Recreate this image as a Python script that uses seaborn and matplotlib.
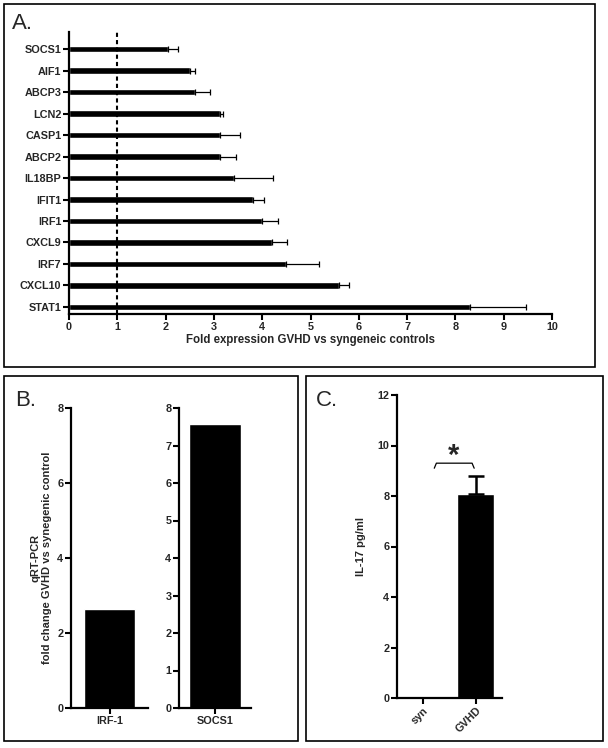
import numpy as np
import pandas as pd
import seaborn as sns
import matplotlib.pyplot as plt
from matplotlib.patches import Rectangle

# -----------------------------
# Data
# -----------------------------
genes = ["SOCS1", "AIF1", "ABCP3", "LCN2", "CASP1", "ABCP2", "IL18BP",
         "IFIT1", "IRF1", "CXCL9", "IRF7", "CXCL10", "STAT1"]
fold = [2.04, 2.5, 2.61, 3.13, 3.13, 3.13, 3.41, 3.8, 4.0, 4.21, 4.49, 5.6, 8.3]
fold_err = [0.21, 0.1, 0.31, 0.05, 0.41, 0.33, 0.82, 0.24, 0.33, 0.3, 0.69, 0.2, 1.16]

qpcr_labels = ["IRF-1", "SOCS1"]
qpcr_values = [2.64, 7.57]

il17_groups = ["syn", "GVHD"]
il17_values = [0.05, 8.07]
il17_err = [0.0, 0.72]

# -----------------------------
# Style
# -----------------------------
sns.set_style("ticks")
plt.rcParams["font.family"] = ["Liberation Sans", "DejaVu Sans"]
plt.rcParams["font.weight"] = "bold"

W, H = 608, 748
fig = plt.figure(figsize=(W / 100, H / 100), dpi=100)


def px_axes(x0, y0, x1, y1):
    # pixel box (top-left origin) -> figure axes
    return fig.add_axes([x0 / W, 1 - y1 / H, (x1 - x0) / W, (y1 - y0) / H])


def style_ax(ax, size=7.8):
    sns.despine(ax=ax)
    for s in ("left", "bottom"):
        ax.spines[s].set_linewidth(1.6)
        ax.spines[s].set_color("black")
    ax.tick_params(width=1.5, length=4, color="black", labelsize=size, pad=1.5)
    for lab in ax.get_xticklabels() + ax.get_yticklabels():
        lab.set_fontweight("bold")


# panel frames
for (x0, y0, x1, y1) in [(4, 4, 595, 367), (4, 376, 298, 741), (306, 376, 603, 741)]:
    fig.patches.append(Rectangle((x0 / W, 1 - y1 / H), (x1 - x0) / W, (y1 - y0) / H,
                                 transform=fig.transFigure, fill=False,
                                 edgecolor="black", linewidth=1.2))

# -----------------------------
# Panel A
# -----------------------------
df_a = pd.DataFrame({"gene": genes, "fold": fold, "err": fold_err})
axA = px_axes(69, 32, 552, 314)
sns.barplot(data=df_a, x="fold", y="gene", orient="h", color="black",
            width=0.3, errorbar=None, ax=axA, saturation=1)
axA.errorbar(df_a["fold"], np.arange(len(genes)), xerr=[np.zeros(len(genes)), df_a["err"]],
             fmt="none", ecolor="black", elinewidth=0.9, capsize=2, capthick=0.9)
axA.axvline(1, color="black", linestyle=(0, (2, 1.5)), linewidth=1.5)
axA.set_xlim(0, 10)
axA.set_ylim(12.33, -0.8)
axA.set_xticks(range(0, 11))
axA.set_xlabel("Fold expression GVHD vs syngeneic controls", fontsize=8.3,
               fontweight="bold", labelpad=2)
axA.set_ylabel("")
style_ax(axA)
fig.text(12 / W, 1 - 29 / H, "A.", fontsize=16, fontweight="normal")

# -----------------------------
# Panel B
# -----------------------------
axB1 = px_axes(71, 408, 148, 708)
sns.barplot(x=[qpcr_labels[0]], y=[qpcr_values[0]], color="black", width=0.665,
            ax=axB1, saturation=1)
axB1.set_xlim(-0.5, 0.5)
axB1.set_ylim(0, 8)
axB1.set_yticks([0, 2, 4, 6, 8])
axB1.set_ylabel("qRT-PCR\nfold change GVHD vs synegenic control", fontsize=8,
                fontweight="bold", labelpad=4)
style_ax(axB1)

axB2 = px_axes(179, 408, 251, 708)
sns.barplot(x=[qpcr_labels[1]], y=[qpcr_values[1]], color="black", width=0.72,
            ax=axB2, saturation=1)
axB2.set_xlim(-0.5, 0.5)
axB2.set_ylim(0, 8)
axB2.set_yticks(range(0, 9))
style_ax(axB2)
fig.text(15 / W, 1 - 406 / H, "B.", fontsize=16, fontweight="normal")

# -----------------------------
# Panel C
# -----------------------------
axC = px_axes(397, 395, 502, 698)
sns.barplot(x=il17_groups, y=il17_values, color="black", width=0.7, ax=axC,
            saturation=1)
axC.errorbar([1], [il17_values[1]], yerr=[[0], [il17_err[1]]], fmt="none",
             ecolor="black", elinewidth=1.8, capsize=6, capthick=1.8)
axC.set_xlim(-0.5, 1.5)
axC.set_ylim(0, 12)
axC.set_yticks(range(0, 13, 2))
axC.set_ylabel("IL-17 pg/ml", fontsize=8, fontweight="bold", labelpad=8)
style_ax(axC)
plt.setp(axC.get_xticklabels(), rotation=45, ha="right", rotation_mode="anchor")
# significance bracket
bx = [0.21, 0.25, 0.93, 0.97]
by = [9.1, 9.3, 9.3, 9.1]
axC.plot(bx, by, color="black", linewidth=0.9, clip_on=False)
axC.text(0.58, 9.05, "*", ha="center", va="bottom", fontsize=21, fontweight="bold")
fig.text(316 / W, 1 - 406 / H, "C.", fontsize=16, fontweight="normal")

fig.savefig("out.png", dpi=100)
